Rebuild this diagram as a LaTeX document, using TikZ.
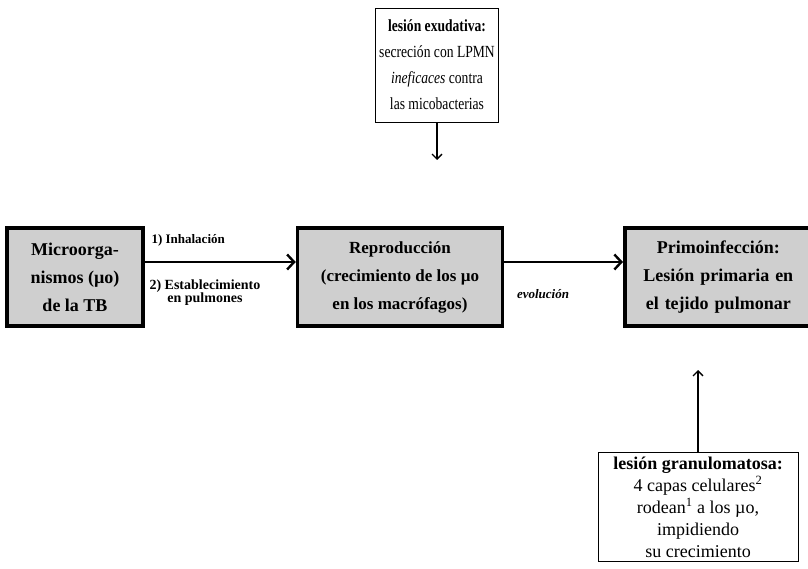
\documentclass[tikz,border=0pt]{standalone}
\usepackage{fontspec}
\setmainfont{Liberation Serif}
\newfontfamily\narrowserif[FakeStretch=0.8]{Liberation Serif}
\usetikzlibrary{arrows.meta}

\begin{document}
\begin{tikzpicture}[x=1pt,y=-1pt,
  bigbox/.style={rectangle,draw,line width=3.5pt,fill=gray!38,align=center,inner sep=4pt,
    minimum height=98pt,font=\bfseries\fontsize{18}{28}\selectfont},
  notebox/.style={rectangle,draw,line width=0.8pt,align=center,inner sep=4pt},
  tag/.style={align=center,font=\bfseries\fontsize{13}{12}\selectfont}]
\useasboundingbox (0,0) rectangle (808,569);

\node[bigbox,minimum width=136pt] (a) at (75,277) {Microorga-\\nismos (µo)\\de la TB};
\node[bigbox,minimum width=205pt,font=\bfseries\fontsize{17}{28}\selectfont] (b) at (400,277) {Reproducción\\(crecimiento de los µo\\en los macrófagos)};
\node[bigbox,text width=179pt,anchor=west] (c) at (623,277) {Primoinfección:\\Lesión primaria en\\el tejido pulmonar};

\node[notebox,minimum height=114pt,font=\narrowserif\fontsize{17}{26}\selectfont] (d) at (437,65) {\textbf{lesión exudativa:}\\secreción con LPMN\\\textit{ineficaces} contra\\las micobacterias};
\node[notebox,minimum width=200pt,minimum height=106pt,font=\fontsize{18}{22}\selectfont] (e) at (698,507) {\textbf{lesión granulomatosa:}\\4 capas celulares\textsuperscript{2}\\rodean\textsuperscript{1} a los µo,\\impidiendo\\su crecimiento};
\coordinate (dd) at (437,160);
\coordinate (ee) at (698,370);

\path[-{Straight Barb[length=7pt,width=15pt]},line width=2.4pt,black] ([yshift=15pt]a.east) edge ([yshift=15pt]b.west);
\path[-{Straight Barb[length=7pt,width=15pt]},line width=2.4pt,black] ([yshift=15pt]b.east) edge ([yshift=15pt]c.west);
\path[-{Straight Barb[length=5pt,width=10pt]},line width=1.3pt,black] (d) edge (dd);
\path[-{Straight Barb[length=5pt,width=10pt]},line width=1.3pt,black] (e) edge (ee);

\node[tag,anchor=west] (i) at (148,240) {1) Inhalación};
\node[tag,anchor=north west,font=\bfseries\fontsize{14}{12}\selectfont] (j) at (146,276) {2) Establecimiento\\en pulmones};
\node[tag,font=\bfseries\itshape\fontsize{13}{12}\selectfont] (k) at (543,294) {evolución};
\end{tikzpicture}
\end{document}
